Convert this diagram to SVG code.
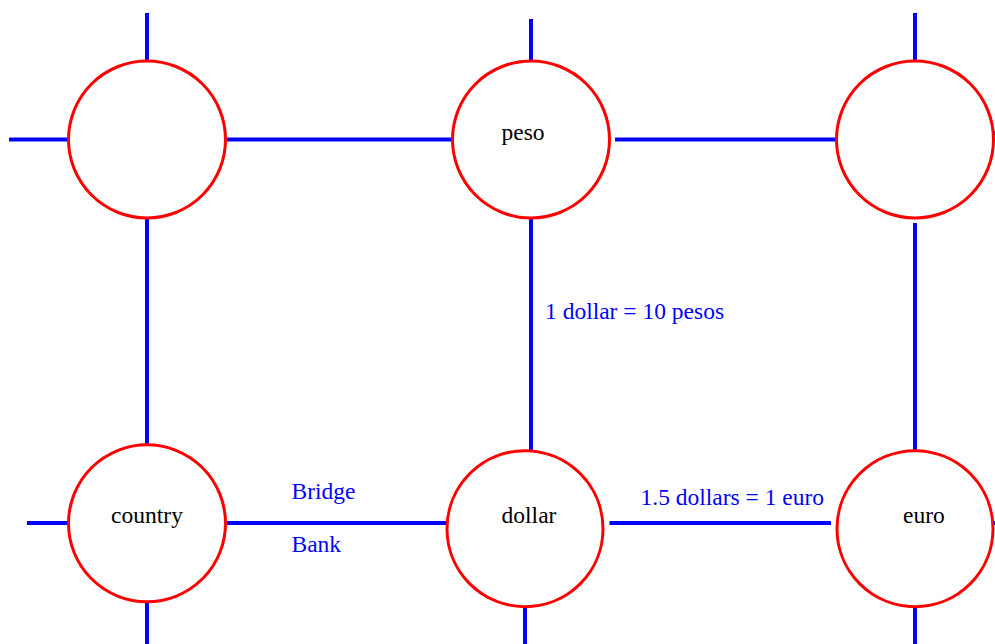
<svg xmlns="http://www.w3.org/2000/svg" width="995" height="644" viewBox="0 0 995 644">
<style>
.node{fill:#fff;stroke:#ff0000;stroke-width:3}
.edge{stroke:#0000ff;stroke-width:4;fill:none}
.lbl{font-family:"Liberation Serif","Times New Roman",serif;font-size:23.5px}
.nl{fill:#000000;text-anchor:middle}
.el{fill:#0000ff}
</style>
<rect width="995" height="644" fill="#fff"/>
<g id="connectors">
<line class="edge" x1="147" y1="13" x2="147" y2="61"/>
<line class="edge" x1="9" y1="139.5" x2="68.5" y2="139.5"/>
<line class="edge" x1="225.5" y1="139.5" x2="452.5" y2="139.5"/>
<line class="edge" x1="147" y1="218" x2="147" y2="444.5"/>
<line class="edge" x1="531" y1="19" x2="531" y2="61"/>
<line class="edge" x1="615" y1="139.5" x2="836.5" y2="139.5"/>
<line class="edge" x1="531" y1="218" x2="531" y2="451"/>
<line class="edge" x1="915" y1="13" x2="915" y2="61"/>
<line class="edge" x1="915" y1="223" x2="915" y2="451"/>
<line class="edge" x1="993.5" y1="133" x2="1000" y2="133"/>
<line class="edge" x1="27" y1="523" x2="68.5" y2="523"/>
<line class="edge" x1="225.5" y1="523" x2="447" y2="523"/>
<line class="edge" x1="147" y1="602" x2="147" y2="644"/>
<line class="edge" x1="609.5" y1="523" x2="831" y2="523"/>
<line class="edge" x1="525" y1="606.5" x2="525" y2="644"/>
<line class="edge" x1="993.5" y1="523" x2="1000" y2="523"/>
<line class="edge" x1="915" y1="606.5" x2="915" y2="644"/>
<text class="lbl el" x="545" y="319">1 dollar = 10 pesos</text>
<text class="lbl el" x="291.5" y="499">Bridge</text>
<text class="lbl el" x="291.5" y="552">Bank</text>
<text class="lbl el" x="640.5" y="505">1.5 dollars = 1 euro</text>
</g>
<g id="n-topleft"><circle class="node" cx="147" cy="139.5" r="78.5"/></g>
<g id="n-peso"><circle class="node" cx="531" cy="139.5" r="78.5"/><text class="lbl nl" x="523" y="140">peso</text></g>
<g id="n-topright"><circle class="node" cx="915" cy="139.5" r="78.5"/></g>
<g id="n-country"><circle class="node" cx="147" cy="523.3" r="78.5"/><text class="lbl nl" x="147" y="523">country</text></g>
<g id="n-dollar"><circle class="node" cx="525" cy="528.7" r="78"/><text class="lbl nl" x="529" y="523">dollar</text></g>
<g id="n-euro"><circle class="node" cx="915" cy="528.7" r="78"/><text class="lbl nl" x="924" y="523">euro</text></g>
</svg>
